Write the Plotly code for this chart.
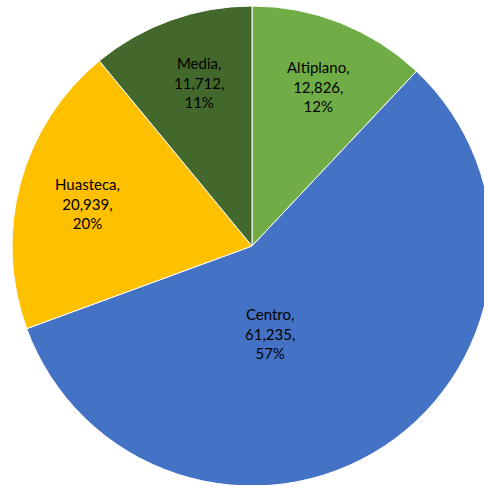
import plotly.graph_objects as go

regions = ["Altiplano", "Centro", "Huasteca", "Media"]
values = [12826, 61235, 20939, 11712]
colors = ["#70AD47", "#4472C4", "#FFC000", "#43682B"]

# layout (pixels): figure larger than the window so the pie can overflow it
W, H = 500, 490
cx, cy, r = 252, 246, 240
label_px = [(318, 86), (270, 333), (87, 203), (199, 82)]

total = sum(values)
texts = [f"{n},<br>{v:,},<br>{round(100 * v / total)}%" for n, v in zip(regions, values)]

fig = go.Figure(go.Pie(
    labels=regions,
    values=values,
    sort=False,
    direction="clockwise",
    rotation=0,
    marker=dict(colors=colors, line=dict(color="white", width=1)),
    textinfo="none",
    domain=dict(x=[(cx - r) / W, (cx + r) / W], y=[(H - cy - r) / H, (H - cy + r) / H]),
    showlegend=False,
    hoverinfo="label+value+percent",
))

for t, (px, py) in zip(texts, label_px):
    fig.add_annotation(
        x=px / W, y=1 - py / H, xref="paper", yref="paper",
        text=t, showarrow=False, align="center",
        xanchor="center", yanchor="middle",
        font=dict(family="Lato", size=15, color="black"),
    )

fig.update_layout(
    width=W, height=H,
    margin=dict(l=0, r=0, t=0, b=0),
    paper_bgcolor="white",
    plot_bgcolor="white",
)

fig.write_html(
    "out.html",
    config={"displayModeBar": False},
    post_script="document.body.style.margin='0';document.body.style.overflow='hidden';",
)
